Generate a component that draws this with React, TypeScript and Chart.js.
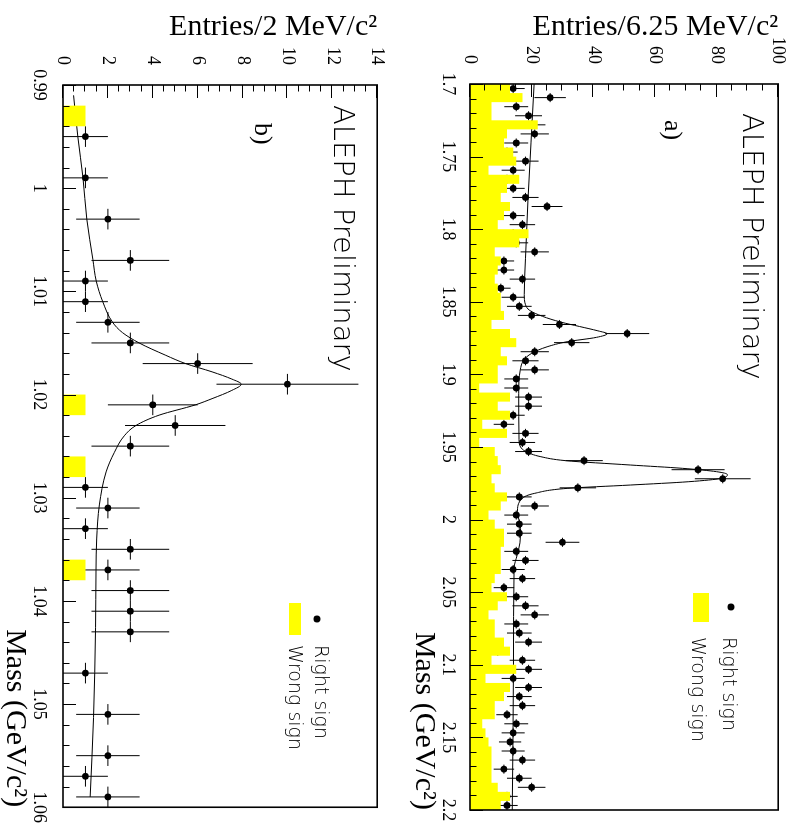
import React, { useEffect, useRef } from 'react';
import { Chart, registerables } from 'chart.js';

Chart.register(...registerables);

const SERIF = '"Liberation Serif", "Times New Roman", serif';
const SANS = '"DejaVu Sans", "Liberation Sans", sans-serif';

// ---------------- Panel a) : 1.7 - 2.2 GeV, 6.25 MeV bins ----------------
const massStartA = 1.7;
const massEndA = 2.2;
const binWidthA = 0.00625;
const rightSignA = [
  14, 26, 15, 19, 20, 21, 15, 12, 18, 14,
  12, 14, 18, 25, 14, 17, 14, 15, 21, 11,
  11, 17, 10, 14, 16, 20, 29, 51, 33, 21,
  18, 21, 15, 15, 19, 19, 14, 11, 18, 17,
  19, 37, 74, 82, 35, 16, 21, 15, 16, 16,
  30, 15, 18, 14, 17, 11, 15, 18, 21, 15,
  16, 19, 9, 17, 19, 14, 19, 16, 17, 12,
  15, 14, 13, 14, 17, 11, 16, 20, 12, 12,
];
const wrongSignA = [
  13, 17, 7, 7, 22, 12, 11, 14, 15, 6,
  16, 12, 10, 13, 11, 9, 19, 16, 8, 10,
  9, 8, 9, 10, 10, 11, 7, 13, 15, 10,
  12, 9, 9, 3, 13, 9, 13, 4, 12, 3,
  8, 9, 10, 7, 8, 12, 10, 6, 8, 11,
  11, 10, 10, 10, 8, 7, 12, 9, 6, 8,
  8, 11, 13, 7, 15, 5, 13, 11, 8, 8,
  4, 5, 6, 7, 7, 7, 7, 9, 13, 10,
];
const fitMassA = [
  1.7, 1.74, 1.78, 1.82, 1.845, 1.852, 1.856, 1.86, 1.864, 1.867,
  1.87, 1.872, 1.8745, 1.8775, 1.881, 1.8855, 1.89, 1.897, 1.913, 1.945,
  1.95, 1.953, 1.9567, 1.9594, 1.9624, 1.9647, 1.967, 1.969, 1.9716, 1.9739,
  1.9762, 1.9785, 1.9819, 1.9853, 1.9946, 2.006, 2.016, 2.0244, 2.0335, 2.1,
  2.2,
];
const fitValA = [
  20.8, 19.8, 18.8, 18.0, 17.6, 18.0, 19.4, 23.5, 29.5, 35.5,
  41.5, 44.5, 41.0, 31.5, 25.0, 20.0, 17.5, 16.3, 15.8, 15.9,
  16.4, 18.0, 23.0, 31.0, 52.0, 69.0, 80.0, 83.5, 81.5, 71.0,
  52.0, 31.5, 21.0, 17.0, 15.4, 16.4, 16.2, 15.3, 14.3, 14.1,
  13.7,
];
const massTicksA = [1.7, 1.75, 1.8, 1.85, 1.9, 1.95, 2.0, 2.05, 2.1, 2.15, 2.2];
const massTickLabelsA = ['1.7', '1.75', '1.8', '1.85', '1.9', '1.95', '2', '2.05', '2.1', '2.15', '2.2'];
const entryTicksA = [0, 20, 40, 60, 80, 100];
const entryTickLabelsA = ['0', '20', '40', '60', '80', '100'];

// ---------------- Panel b) : 0.99 - 1.06 GeV, 2 MeV bins ----------------
const massStartB = 0.99;
const massEndB = 1.06;
const binWidthB = 0.002;
const rightSignB = [
  0, 0, 1, 0, 1, 0, 2, 0, 3, 1,
  1, 2, 3, 6, 10, 4, 5, 3, 0, 1,
  2, 1, 3, 2, 3, 3, 3, 0, 1, 0,
  2, 0, 2, 1, 2,
];
const wrongSignB = [
  0, 1, 0, 0, 0, 0, 0, 0, 0, 0,
  0, 0, 0, 0, 0, 1, 0, 0, 1, 0,
  0, 0, 0, 1, 0, 0, 0, 0, 0, 0,
  0, 0, 0, 0, 0,
];
const fitMassB = [
  0.991, 0.995, 0.999, 1.003, 1.0069, 1.009, 1.011, 1.013, 1.014, 1.015,
  1.0162, 1.017, 1.0178, 1.0185, 1.019, 1.0196, 1.0204, 1.021, 1.022, 1.023,
  1.024, 1.0256, 1.0275, 1.0307, 1.034, 1.0371, 1.0426, 1.0513, 1.059,
];
const fitValB = [
  0.47, 0.66, 0.89, 1.06, 1.33, 1.48, 1.77, 2.21, 2.65, 3.39,
  4.58, 5.46, 6.64, 7.52, 7.94, 7.52, 6.64, 5.9, 4.28, 3.25,
  2.73, 2.29, 1.92, 1.62, 1.5, 1.47, 1.45, 1.36, 1.21,
];
const massTicksB = [0.99, 1.0, 1.01, 1.02, 1.03, 1.04, 1.05, 1.06];
const massTickLabelsB = ['0.99', '1', '1.01', '1.02', '1.03', '1.04', '1.05', '1.06'];
const entryTicksB = [0, 2, 4, 6, 8, 10, 12, 14];
const entryTickLabelsB = ['0', '2', '4', '6', '8', '10', '12', '14'];

const legendLabels = ['Right sign', 'Wrong sign'];

type Panel = {
  massStart: number; massEnd: number; bin: number;
  right: number[]; wrong: number[]; fitM: number[]; fitV: number[];
  massTicks: number[]; massLabels: string[]; entryTicks: number[]; entryLabels: string[];
  massMinor: number; entryMinor: number; yTitle: string; tag: string;
  canvasH: number; padTop: number; yWidth: number; xHeight: number;
  xTickPad: number; xTitlePad: number;
  tagPos: [number, number]; alephPos: [number, number];
  legMarker: [number, number]; legBox: [number, number, number, number];
  legText1: [number, number]; legText2: [number, number];
};

const panelA: Panel = {
  massStart: massStartA, massEnd: massEndA, bin: binWidthA,
  right: rightSignA, wrong: wrongSignA, fitM: fitMassA, fitV: fitValA,
  massTicks: massTicksA, massLabels: massTickLabelsA, entryTicks: entryTicksA, entryLabels: entryTickLabelsA,
  massMinor: 0.01, entryMinor: 5, yTitle: 'Entries/6.25 MeV/c\u00B2', tag: 'a)',
  canvasH: 401, padTop: 13, yWidth: 84, xHeight: 70, xTickPad: 3, xTitlePad: 9,
  tagPos: [120, 136], alephPos: [113, 58],
  legMarker: [607, 70], legBox: [593, 92, 29, 16], legText1: [637, 78], legText2: [637, 109],
};

const panelB: Panel = {
  massStart: massStartB, massEnd: massEndB, bin: binWidthB,
  right: rightSignB, wrong: wrongSignB, fitM: fitMassB, fitV: fitValB,
  massTicks: massTicksB, massLabels: massTickLabelsB, entryTicks: entryTicksB, entryLabels: entryTickLabelsB,
  massMinor: 0.002, entryMinor: 0.5, yTitle: 'Entries/2 MeV/c\u00B2', tag: 'b)',
  canvasH: 400, padTop: 20, yWidth: 85, xHeight: 63, xTickPad: 5, xTitlePad: 0,
  tagPos: [123, 145], alephPos: [105, 66],
  legMarker: [619, 83], legBox: [603, 99, 32, 12], legText1: [645, 85], legText2: [645, 111],
};

function makeChart(canvas: HTMLCanvasElement, p: Panel) {
  const n = p.wrong.length;
  const histPts = p.wrong.map((v, i) => ({ x: p.massStart + i * p.bin, y: v }));
  histPts.push({ x: p.massStart + n * p.bin, y: p.wrong[n - 1] });
  const pts = p.right
    .map((v, i) => ({ x: p.massStart + (i + 0.5) * p.bin, y: v }))
    .filter((d) => d.y > 0);
  const fit = p.fitM.map((m, i) => ({ x: m, y: p.fitV[i] }));
  const yMax = p.entryTicks[p.entryTicks.length - 1];

  const errorBars = {
    id: 'errorBars',
    beforeDatasetsDraw(chart: any) {
      const { ctx, chartArea: a, scales } = chart;
      const x = scales.x, y = scales.y;
      ctx.save();
      ctx.beginPath();
      ctx.rect(a.left, a.top, a.right - a.left, a.bottom - a.top);
      ctx.clip();
      ctx.strokeStyle = '#000';
      ctx.lineWidth = 1;
      ctx.beginPath();
      pts.forEach((d) => {
        const e = Math.sqrt(d.y);
        const px = x.getPixelForValue(d.x);
        const py = y.getPixelForValue(d.y);
        const lo = y.getPixelForValue(Math.max(0, d.y - e));
        const hi = y.getPixelForValue(d.y + e);
        ctx.moveTo(px, lo);
        ctx.lineTo(px, hi);
        ctx.moveTo(x.getPixelForValue(d.x - p.bin / 2), py);
        ctx.lineTo(x.getPixelForValue(d.x + p.bin / 2), py);
      });
      ctx.stroke();
      ctx.restore();
    },
  };

  const frame = {
    id: 'frameTicks',
    afterDatasetsDraw(chart: any) {
      const { ctx, chartArea: a, scales } = chart;
      const x = scales.x, y = scales.y;
      ctx.save();
      ctx.strokeStyle = '#000';
      ctx.lineWidth = 1;
      ctx.beginPath();
      const nM = Math.round((p.massEnd - p.massStart) / p.massMinor);
      for (let k = 0; k <= nM; k++) {
        const m = p.massStart + k * p.massMinor;
        const px = Math.round(x.getPixelForValue(m)) + 0.5;
        const len = k % 5 === 0 ? 13 : 6.5;
        ctx.moveTo(px, a.bottom);
        ctx.lineTo(px, a.bottom - len);
      }
      const nE = Math.round(yMax / p.entryMinor);
      for (let k = 0; k <= nE; k++) {
        const v = k * p.entryMinor;
        const py = Math.round(y.getPixelForValue(v)) + 0.5;
        const len = k % 4 === 0 ? 13 : 6.5;
        ctx.moveTo(a.left, py);
        ctx.lineTo(a.left + len, py);
      }
      ctx.stroke();
      ctx.lineWidth = 1.6;
      ctx.strokeRect(a.left, a.top, a.right - a.left, a.bottom - a.top);
      ctx.restore();
    },
  };

  const decor = {
    id: 'decor',
    afterDraw(chart: any) {
      const { ctx } = chart;
      ctx.save();
      ctx.fillStyle = '#000';
      ctx.textAlign = 'left';
      ctx.textBaseline = 'alphabetic';
      ctx.font = `200 29px ${SANS}`;
      ctx.fillText('ALEPH Preliminary', p.alephPos[0], p.alephPos[1]);
      ctx.font = `26px ${SERIF}`;
      ctx.fillText(p.tag, p.tagPos[0], p.tagPos[1]);
      ctx.beginPath();
      ctx.arc(p.legMarker[0], p.legMarker[1], 3.5, 0, Math.PI * 2);
      ctx.fill();
      ctx.fillStyle = '#ffff00';
      ctx.fillRect(p.legBox[0], p.legBox[1], p.legBox[2], p.legBox[3]);
      ctx.fillStyle = '#000';
      ctx.font = `200 19px ${SANS}`;
      ctx.fillText(legendLabels[0], p.legText1[0], p.legText1[1]);
      ctx.fillText(legendLabels[1], p.legText2[0], p.legText2[1]);
      ctx.restore();
    },
  };

  const config: any = {
    type: 'scatter',
    data: {
      datasets: [
        {
          type: 'line', label: 'Wrong sign', data: histPts, stepped: true, fill: 'origin',
          backgroundColor: '#ffff00', borderColor: 'rgba(0,0,0,0)', borderWidth: 0,
          pointRadius: 0, order: 0,
        },
        {
          type: 'scatter', label: 'Right sign', data: pts, pointRadius: 3.4,
          pointBackgroundColor: '#000', pointBorderWidth: 0, pointBorderColor: '#000', order: 1,
        },
        {
          type: 'line', label: 'Fit', data: fit, borderColor: '#000', borderWidth: 1,
          pointRadius: 0, cubicInterpolationMode: 'monotone', fill: false, order: 2,
        },
      ],
    },
    options: {
      animation: false,
      responsive: false,
      devicePixelRatio: 1,
      events: [],
      layout: { padding: { top: p.padTop, right: 18, left: 0, bottom: 0 } },
      plugins: { legend: { display: false }, tooltip: { enabled: false } },
      scales: {
        x: {
          type: 'linear', position: 'bottom', min: p.massStart, max: p.massEnd,
          grid: { display: false }, border: { display: false },
          afterBuildTicks: (s: any) => { s.ticks = p.massTicks.map((v) => ({ value: v })); },
          afterFit: (s: any) => { s.height = p.xHeight; },
          ticks: {
            autoSkip: false, maxRotation: 0, minRotation: 0, padding: p.xTickPad, color: '#000',
            font: { family: SERIF, size: 18 },
            callback: (_v: any, i: number) => p.massLabels[i],
          },
          title: {
            display: true, text: 'Mass (GeV/c\u00B2)', align: 'end', color: '#000',
            font: { family: SERIF, size: 30, lineHeight: 1 },
            padding: { top: 0, bottom: p.xTitlePad },
          },
        },
        y: {
          type: 'linear', position: 'left', min: 0, max: yMax,
          grid: { display: false }, border: { display: false },
          afterBuildTicks: (s: any) => { s.ticks = p.entryTicks.map((v) => ({ value: v })); },
          afterFit: (s: any) => { s.width = p.yWidth; },
          ticks: {
            autoSkip: false, padding: 12, color: '#000',
            font: { family: SERIF, size: 18 },
            callback: (_v: any, i: number) => p.entryLabels[i],
          },
          title: {
            display: true, text: p.yTitle, align: 'end', color: '#000',
            font: { family: SERIF, size: 30, lineHeight: 1 },
            padding: { top: 12, bottom: 0 },
          },
        },
      },
    },
    plugins: [errorBars, frame, decor],
  };
  return new Chart(canvas, config);
}

export default function App() {
  const refA = useRef<HTMLCanvasElement>(null);
  const refB = useRef<HTMLCanvasElement>(null);
  useEffect(() => {
    const ca = makeChart(refA.current as HTMLCanvasElement, panelA);
    const cb = makeChart(refB.current as HTMLCanvasElement, panelB);
    return () => { ca.destroy(); cb.destroy(); };
  }, []);
  return (
    <div style={{ position: 'absolute', left: 0, top: 0, width: 801, height: 828, overflow: 'hidden', background: '#fff' }}>
      <div style={{ position: 'absolute', left: 0, top: 0, width: 828, height: panelB.canvasH, transformOrigin: '0 0', transform: `translateX(${panelB.canvasH}px) rotate(90deg)` }}>
        <canvas ref={refB} width={828} height={panelB.canvasH} style={{ display: 'block' }} />
      </div>
      <div style={{ position: 'absolute', left: 801 - panelA.canvasH, top: 0, width: 828, height: panelA.canvasH, transformOrigin: '0 0', transform: `translateX(${panelA.canvasH}px) rotate(90deg)` }}>
        <canvas ref={refA} width={828} height={panelA.canvasH} style={{ display: 'block' }} />
      </div>
    </div>
  );
}
